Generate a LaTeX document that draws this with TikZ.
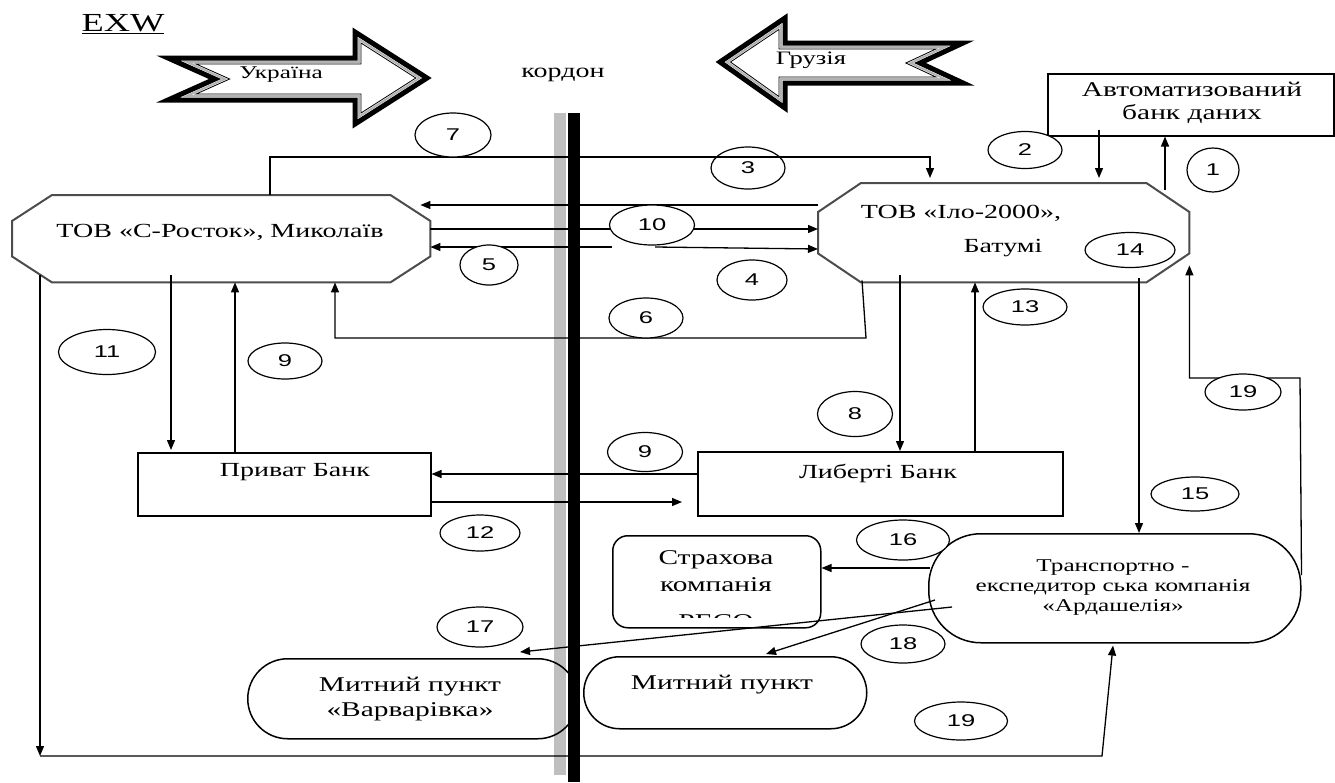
\documentclass[tikz,border=0pt]{standalone}
\usepackage{fontspec}
\setmainfont{Liberation Serif}[FakeStretch=1.4]
\newfontfamily\numfont{Liberation Sans}[FakeStretch=1.5]
\usetikzlibrary{arrows.meta,calc,shapes.geometric}
\newcommand{\octo}[3]{\draw[octline] ($(#1.north west)+(#2,0)$) -- ($(#1.north east)+(-#2,0)$) -- ($(#1.north east)+(0,#3)$) -- ($(#1.south east)+(0,-#3)$) -- ($(#1.south east)+(-#2,0)$) -- ($(#1.south west)+(#2,0)$) -- ($(#1.south west)+(0,-#3)$) -- ($(#1.north west)+(0,#3)$) -- cycle;}
\newcommand{\numc}[5]{\node[num,minimum width=#4pt,minimum height=#5pt] (#1) at (#2) {#3};}
\begin{document}
\begin{tikzpicture}[x=1pt,y=-1pt,
  conn/.style={line width=1.3pt},
  arr/.style={conn,-{Triangle[length=10pt,width=8pt]}},
  octline/.style={draw=black!70,line width=2pt},
  frame/.style={draw,line width=1.5pt,anchor=north west,inner sep=0pt},
  holder/.style={draw=none,anchor=north west,inner sep=0pt},
  num/.style={ellipse,draw,line width=1.2pt,fill=white,inner sep=0pt,font=\numfont\fontsize{17}{17}\selectfont},
  lab/.style={inner sep=0pt,align=center,font=\fontsize{20}{23}\selectfont},
]
\useasboundingbox (0,0) rectangle (1335,782);
\fill[white] (0,0) rectangle (1335,782);

% border
\fill[gray!50] (554,113) rectangle (566,775);
\fill[black] (568,113) rectangle (580,782);

% big arrows
\draw[line width=5pt,line join=miter] (168,58)--(355,58)--(355,32)--(427,78)--(355,124)--(355,100)--(168,100)--(215,79)--cycle;
\draw[gray!60,line width=2pt,line join=miter] (186.8,62)--(359,62)--(359,39.3)--(419.6,78)--(359,116.7)--(359,96)--(186.8,96)--(224.8,79)--cycle;
\draw[line width=0.8pt,line join=miter] (196.1,64)--(361,64)--(361,43)--(415.8,78)--(361,113)--(361,94)--(196.1,94)--(229.7,79)--cycle;

\draw[line width=5pt,line join=miter] (720,62)--(785,18)--(785,43)--(963,43)--(920,63)--(963,83)--(785,83)--(785,108)--cycle;
\draw[gray!60,line width=2pt,line join=miter] (727,62)--(781,25.6)--(781,47)--(944.9,47)--(910.5,63)--(944.9,79)--(781,79)--(781,100.4)--cycle;
\draw[line width=0.8pt,line join=miter] (730.5,62)--(779,29.4)--(779,49)--(935.9,49)--(905.8,63)--(935.9,77)--(779,77)--(779,96.6)--cycle;

\node[lab,font=\fontsize{18}{18}\selectfont] (ukr) at (281,75) {Україна};
\node[lab,font=\fontsize{19}{19}\selectfont] (geo) at (811,60) {Грузія};
\node[lab,font=\fontsize{20}{20}\selectfont] (kordon) at (563,75) {кордон};
\node[lab,font=\fontsize{26}{26}\selectfont] (exw) at (123,24) {\underline{EXW}};

% nodes
\node[holder,minimum width=418pt,minimum height=87pt] (sr) at (12,195) {};
\node[holder,minimum width=371pt,minimum height=99pt] (ilo) at (818,183) {};
\node[frame,minimum width=286pt,minimum height=62pt] (abd) at (1047,73) {};
\node[frame,minimum width=293pt,minimum height=63pt] (privat) at (137,452) {};
\node[frame,minimum width=365pt,minimum height=64pt] (liberti) at (697,451) {};
\node[frame,rounded corners=15pt,minimum width=208pt,minimum height=92pt] (strakh) at (612,535) {};
\node[frame,rounded corners=52pt,minimum width=372pt,minimum height=109pt] (ard) at (928,533) {};
\node[frame,rounded corners=40pt,minimum width=330pt,minimum height=80pt] (varv) at (247,658) {};
\node[frame,rounded corners=36pt,minimum width=283pt,minimum height=72pt] (mytn) at (583,656) {};
\octo{sr}{40}{26}
\octo{ilo}{43}{29}

% free end points
\coordinate (c5s) at (612,247);
\coordinate (c4s) at (655,247);
\coordinate (c6a) at (866,338);
\coordinate (c19a) at (1300,378);
\coordinate (c19c) at (40,756);
\coordinate (c19d) at (1102,756);

% connectors
\draw[arr] ($(ilo.north west)+(347,7)$) -- ($(abd.south west)+(118,0)$);
\draw[arr] ($(abd.south west)+(52,-7)$) -- ($(ilo.north west)+(281,-5)$);
\draw[arr] ($(sr.north west)+(258,0)$) -- ++(0,-38) -| ($(ilo.north west)+(112,-5)$);
\draw[arr] ($(ilo.north west)+(0,22)$) -- ($(sr.north east)+(-10,10)$);
\draw[arr] ($(sr.north east)+(0,34)$) -- ($(ilo.north west)+(0,46)$);
\draw[arr] (c5s) -- ($(sr.north east)+(0,52)$);
\draw[arr] (c4s) -- ($(ilo.north west)+(0,66)$);
\draw[arr] ($(ilo.south west)+(44,-2)$) -- (c6a) -| ($(sr.south west)+(323,0)$);
\draw[arr] ($(sr.south west)+(159,-7)$) -- ($(privat.north west)+(34,-2)$);
\draw[arr] ($(privat.north west)+(98,0)$) -- ($(sr.south west)+(223,0)$);
\draw[arr] ($(liberti.north west)+(0,23)$) -- ($(privat.north east)+(0,22)$);
\draw[arr] ($(privat.north east)+(0,50)$) -- ($(liberti.north west)+(-15,51)$);
\draw[arr] ($(ilo.south west)+(82,-7)$) -- ($(liberti.north west)+(203,0)$);
\draw[arr] ($(liberti.north west)+(278,0)$) -- ($(ilo.south west)+(157,0)$);
\draw[arr] ($(ilo.south west)+(321,-4)$) -- ($(ard.north west)+(211,0)$);
\draw[arr] ($(ard.north east)+(0,42)$) -- (c19a) -| ($(ilo.south east)+(0,-17)$);
\draw[arr] ($(ard.north west)+(2,35)$) -- ($(strakh.north east)+(0,33)$);
\draw[arr] ($(ard.north west)+(24,74)$) -- ($(varv.north west)+(273,-6)$);
\draw[arr] ($(ard.north west)+(7,67)$) -- ($(mytn.north west)+(183,-2)$);
\draw[arr] ($(sr.south west)+(28,-7)$) -- (c19c);
\draw[arr] (c19c) -- (c19d) -- ($(ard.south west)+(185,2)$);

% numbered ellipses
\numc{n1}{1213,170}{1}{52}{44}
\numc{n2}{1025,150}{2}{74}{37}
\node[num,fill=none,minimum width=74pt,minimum height=42pt] (n3) at (748,168) {3};
\numc{n4}{752,280}{4}{70}{40}
\numc{n5}{489,265}{5}{58}{40}
\numc{n6}{646,318}{6}{74}{40}
\numc{n7}{453,135}{7}{76}{44}
\numc{n8}{855,414}{8}{75}{45}
\numc{n9a}{285,361}{9}{74}{36}
\numc{n9b}{645,452}{9}{75}{39}
\numc{n10}{652,225}{10}{85}{40}
\numc{n11}{107,352}{11}{97}{45}
\numc{n12}{480,533}{12}{80}{36}
\numc{n13}{1025,307}{13}{84}{36}
\numc{n14}{1130,250}{14}{90}{35}
\numc{n15}{1195,494}{15}{88}{34}
\numc{n16}{903,540}{16}{93}{40}
\numc{n17}{480,627}{17}{86}{40}
\numc{n18}{903,644}{18}{84}{38}
\numc{n19a}{1243,392}{19}{76}{36}
\numc{n19b}{961,721}{19}{93}{38}

% texts
\node[lab,font=\fontsize{21}{23}\selectfont] (abdtext) at (1192,103) {Автоматизований\\банк даних};
\node[lab] (srtext) at (220,232) {ТОВ «С-Росток», Миколаїв};
\node[lab] (ilotext) at (961,213) {ТОВ «Іло-2000»,};
\node[lab] (ilotext2) at (1003,248) {Батумі};
\node[lab] (privattext) at (295,472) {Приват Банк};
\node[lab] (libertitext) at (878,473) {Либерті Банк};
\node[lab,font=\fontsize{21}{27}\selectfont] (strakhtext) at (716,571) {Страхова\\компанія};
\begin{scope}
\clip (612,535) rectangle (820,617);
\node[lab,font=\fontsize{21}{21}\selectfont] (strakhtext2) at (716,622) {РЕСО};
\end{scope}
\node[lab,font=\fontsize{18}{20}\selectfont] (ardtext) at (1113,588) {Транспортно -\\експедитор ська компанія\\«Ардашелія»};
\node[lab,font=\fontsize{21}{25}\selectfont] (varvtext) at (410,699) {Митний пункт\\«Варварівка»};
\node[lab,font=\fontsize{21}{25}\selectfont] (mytntext) at (722,685) {Митний пункт};
\end{tikzpicture}
\end{document}
